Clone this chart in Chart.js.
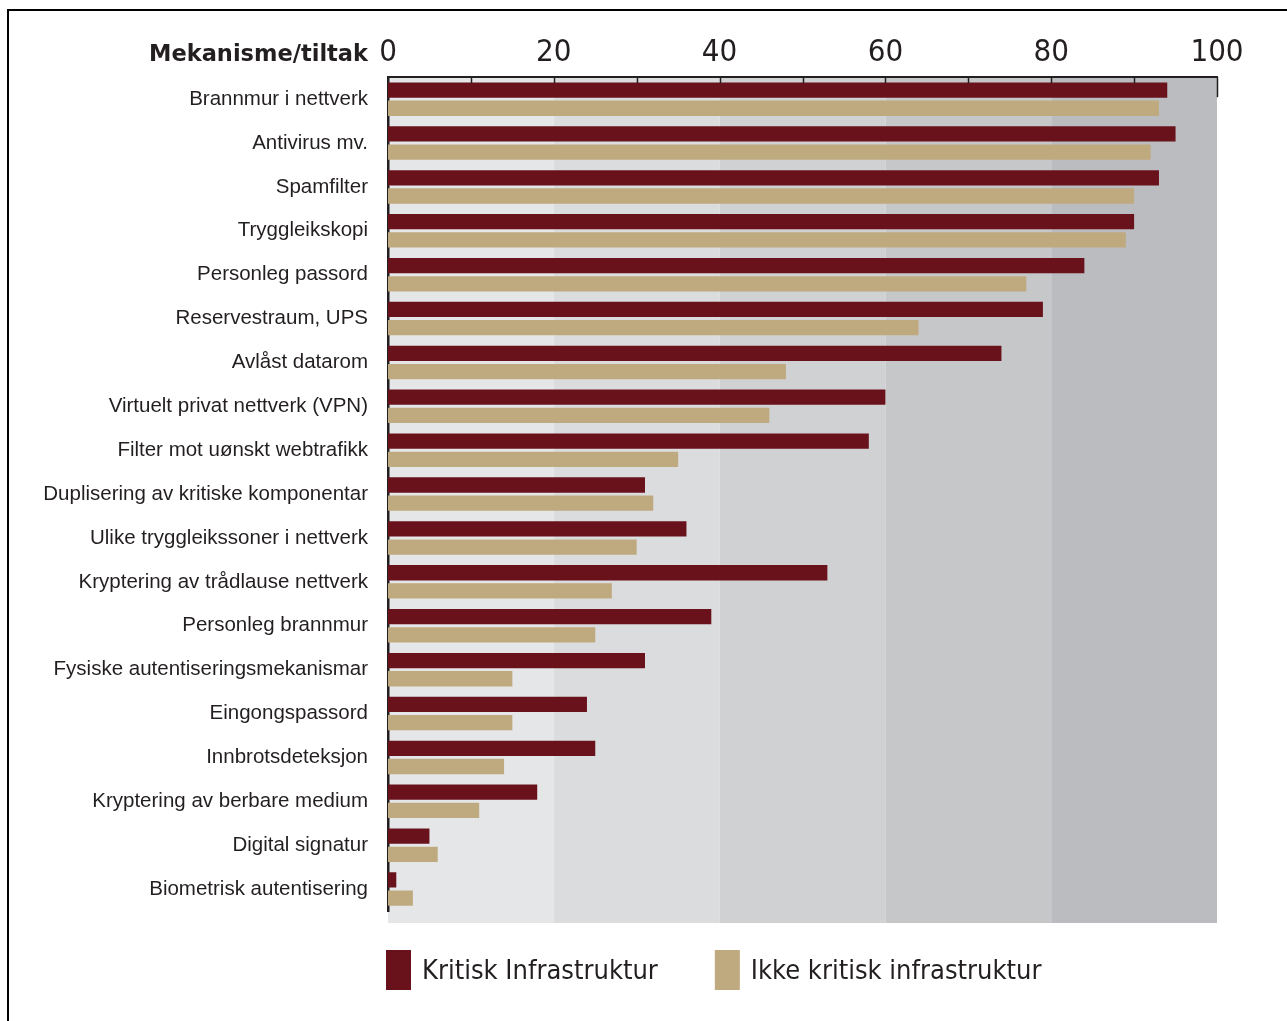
<!DOCTYPE html>
<html>
<head>
<meta charset="utf-8">
<title>Mekanisme/tiltak</title>
<script src="https://cdn.jsdelivr.net/npm/chart.js@4/dist/chart.umd.min.js"></script>
<style>
  body { margin: 0; background: #fff; }
  canvas { display: block; }
</style>
</head>
<body>
<canvas id="graf" width="1287" height="1021"></canvas>
<script>
// data
var tiltak = [
  "Brannmur i nettverk",
  "Antivirus mv.",
  "Spamfilter",
  "Tryggleikskopi",
  "Personleg passord",
  "Reservestraum, UPS",
  "Avlåst datarom",
  "Virtuelt privat nettverk (VPN)",
  "Filter mot uønskt webtrafikk",
  "Duplisering av kritiske komponentar",
  "Ulike tryggleikssoner i nettverk",
  "Kryptering av trådlause nettverk",
  "Personleg brannmur",
  "Fysiske autentiseringsmekanismar",
  "Eingongspassord",
  "Innbrotsdeteksjon",
  "Kryptering av berbare medium",
  "Digital signatur",
  "Biometrisk autentisering"
];
var kritisk = [94, 95, 93, 90, 84, 79, 74, 60, 58, 31, 36, 53, 39, 31, 24, 25, 18, 5, 1];
var ikkeKritisk = [93, 92, 90, 89, 77, 64, 48, 46, 35, 32, 30, 27, 25, 15, 15, 14, 11, 6, 3];
var tittel = "Mekanisme/tiltak";
var serienavn = ["Kritisk Infrastruktur", "Ikke kritisk infrastruktur"];
var akseMin = 0;
var akseMax = 100;
var merkeSteg = 10;
var tekstSteg = 20;

var farger = ["#6a121c", "#bfaa7f"];
var felter = ["#e5e6e8", "#dbdcde", "#d0d1d3", "#c6c7c9", "#bbbcc0"];
var tekstfarge = "#231f20";
var smal = "'DejaVu Sans Condensed', sans-serif";
var vanlig = "'Liberation Sans', Arial, sans-serif";

// ramme, bakgrunnsfelt, merker, tittel og forklaring
var pynt = {
  id: "pynt",
  beforeDraw: function (chart) {
    var ctx = chart.ctx;
    var x = chart.scales.x;
    var a = chart.chartArea;
    ctx.save();
    ctx.strokeStyle = "#000";
    ctx.lineWidth = 2;
    ctx.strokeRect(8, 10, 1400, 1100);

    // grå felt bak søylene
    var n = 0;
    for (var v = akseMin; v < akseMax; v += tekstSteg) {
      var x1 = x.getPixelForValue(v);
      var x2 = x.getPixelForValue(v + tekstSteg);
      ctx.fillStyle = felter[n % felter.length];
      ctx.fillRect(x1, a.top, x2 - x1, a.bottom - a.top + 12);
      n++;
    }
    ctx.restore();
  },
  afterDatasetsDraw: function (chart) {
    var ctx = chart.ctx;
    var x = chart.scales.x;
    var a = chart.chartArea;
    ctx.save();
    ctx.strokeStyle = tekstfarge;
    ctx.lineWidth = 1.5;
    x.ticks.forEach(function (t) {
      if (t.value <= akseMin) return;
      var px = Math.round(x.getPixelForValue(t.value)) + 0.5;
      var len = t.value >= akseMax ? 20 : 6;
      ctx.beginPath();
      ctx.moveTo(px, a.top);
      ctx.lineTo(px, a.top + len);
      ctx.stroke();
    });
    ctx.restore();
  },
  afterDraw: function (chart) {
    var ctx = chart.ctx;
    var a = chart.chartArea;
    ctx.save();
    // tittel over kategoriane
    ctx.fillStyle = tekstfarge;
    ctx.font = "bold 22.5px 'DejaVu Sans', sans-serif";
    ctx.textAlign = "right";
    ctx.textBaseline = "middle";
    ctx.fillText(tittel, a.left - 20, 55);

    // forklaring
    ctx.font = "27px " + smal;
    ctx.textAlign = "left";
    var px = a.left - 2;
    chart.data.datasets.forEach(function (ds) {
      ctx.fillStyle = ds.backgroundColor;
      ctx.fillRect(px, 950, 25, 40);
      ctx.fillStyle = tekstfarge;
      ctx.fillText(ds.label, px + 36, 972);
      px += 36 + ctx.measureText(ds.label).width + 57;
    });
    ctx.restore();
  }
};

var graf = document.getElementById("graf").getContext("2d");
var SF = new Chart(graf, {
  type: "bar",
  data: {
    labels: tiltak,
    datasets: [
      { label: serienavn[0], data: kritisk, backgroundColor: farger[0] },
      { label: serienavn[1], data: ikkeKritisk, backgroundColor: farger[1] }
    ]
  },
  options: {
    indexAxis: "y",
    responsive: false,
    animation: false,
    categoryPercentage: 0.83,
    barPercentage: 0.84,
    layout: { padding: { top: 28, right: 70, bottom: 110, left: 0 } },
    plugins: {
      legend: { display: false },
      tooltip: { enabled: false }
    },
    scales: {
      x: {
        position: "top",
        min: akseMin,
        max: akseMax,
        grid: { display: false, drawTicks: false },
        border: { display: true, color: tekstfarge, width: 2 },
        ticks: {
          stepSize: merkeSteg,
          padding: 6,
          color: tekstfarge,
          font: { family: smal, size: 31 },
          maxRotation: 0,
          autoSkip: false,
          callback: function (v) { return v % tekstSteg === 0 ? v : ""; }
        }
      },
      y: {
        grid: { display: false, drawTicks: false },
        border: { display: true, color: tekstfarge, width: 2.5 },
        afterFit: function (s) { s.width = 388; },
        ticks: {
          padding: 20,
          color: tekstfarge,
          autoSkip: false,
          font: { family: vanlig, size: 20.5 }
        }
      }
    }
  },
  plugins: [pynt]
});
</script>
</body>
</html>
